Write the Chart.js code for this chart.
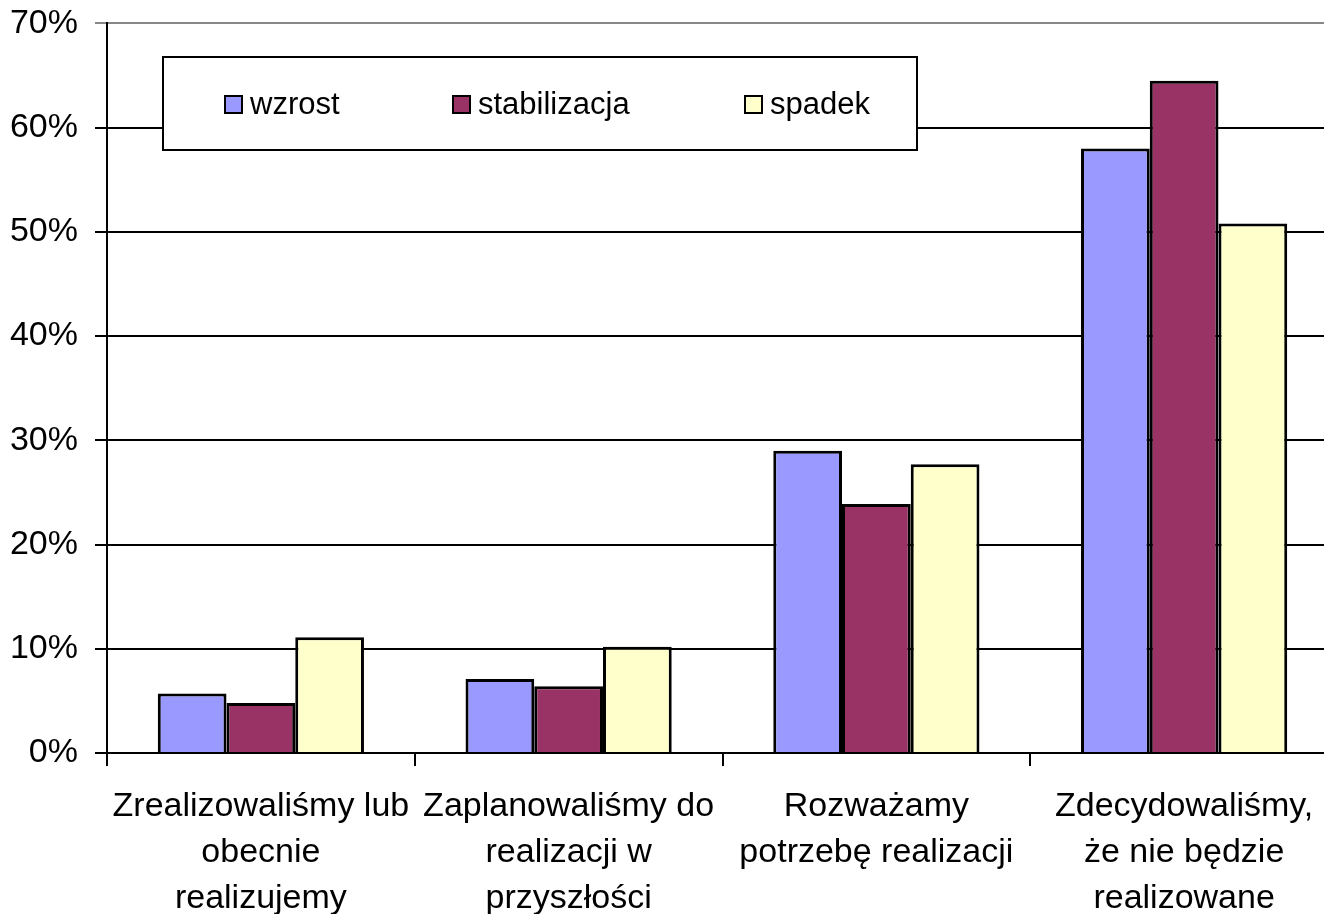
<!DOCTYPE html>
<html>
<head>
<meta charset="utf-8">
<script src="https://cdn.jsdelivr.net/npm/chart.js@4/dist/chart.umd.min.js"></script>
<style>
  html, body { margin: 0; padding: 0; background: #fff; overflow: hidden; }
  #wrap { position: absolute; left: 0; top: -14px; width: 1340px; height: 928px; }
</style>
</head>
<body>
<div id="wrap"><canvas id="c"></canvas></div>
<script>
const categories = [
  ["Zrealizowaliśmy lub", "obecnie", "realizujemy"],
  ["Zaplanowaliśmy do", "realizacji w", "przyszłości"],
  ["Rozważamy", "potrzebę realizacji"],
  ["Zdecydowaliśmy,", "że nie będzie", "realizowane"]
];
const seriesNames = ["wzrost", "stabilizacja", "spadek"];
const wzrost = [5.7, 7.1, 29.0, 58.0];
const stabilizacja = [4.8, 6.4, 23.9, 64.5];
const spadek = [11.1, 10.2, 27.7, 50.8];
const yTicks = [0, 10, 20, 30, 40, 50, 60, 70];
const colors = ["#9999FF", "#993366", "#FFFFCC"];

const FONT = '"Liberation Sans", Arial, sans-serif';
const OFF = 14;

const legendBox = {
  id: 'legendBox',
  afterDraw(chart) {
    const ctx = chart.ctx;
    ctx.save();
    ctx.fillStyle = '#fff';
    ctx.strokeStyle = '#000';
    ctx.lineWidth = 2;
    ctx.fillRect(163, 57 + OFF, 754, 93);
    ctx.strokeRect(163, 57 + OFF, 754, 93);
    const xs = [225, 453, 745];
    ctx.font = '31px ' + FONT;
    ctx.textBaseline = 'middle';
    ctx.textAlign = 'left';
    chart.data.datasets.forEach((ds, i) => {
      ctx.fillStyle = ds.backgroundColor;
      ctx.fillRect(xs[i], 96 + OFF, 17, 17);
      ctx.lineWidth = 2;
      ctx.strokeStyle = '#000';
      ctx.strokeRect(xs[i], 96 + OFF, 17, 17);
      ctx.fillStyle = '#000';
      ctx.fillText(ds.label, xs[i] + 25, 105 + OFF);
    });
    ctx.restore();
  }
};

new Chart(document.getElementById('c'), {
  type: 'bar',
  data: {
    labels: categories,
    datasets: [
      { label: seriesNames[0], data: wzrost, backgroundColor: colors[0] },
      { label: seriesNames[1], data: stabilizacja, backgroundColor: colors[1] },
      { label: seriesNames[2], data: spadek, backgroundColor: colors[2] }
    ]
  },
  options: {
    responsive: true,
    maintainAspectRatio: false,
    animation: false,
    layout: { padding: { top: 9, right: 2, left: 0, bottom: 0 } },
    datasets: {
      bar: {
        borderColor: '#000',
        borderWidth: 3,
        categoryPercentage: 0.67,
        barPercentage: 1.0
      }
    },
    plugins: {
      legend: { display: false },
      tooltip: { enabled: false }
    },
    scales: {
      x: {
        afterFit(scale) { scale.height = 161; },
        border: { display: true, color: '#000', width: 2 },
        grid: {
          drawOnChartArea: false,
          drawTicks: true,
          tickLength: 13,
          color: '#000',
          lineWidth: 2
        },
        ticks: {
          autoSkip: false,
          maxRotation: 0,
          minRotation: 0,
          padding: 18,
          color: '#000',
          font: { family: FONT, size: 34, lineHeight: 1.35 }
        }
      },
      y: {
        min: 0,
        max: 70,
        afterFit(scale) { scale.width = 107; },
        afterBuildTicks(scale) { scale.ticks = yTicks.map(v => ({ value: v })); },
        border: { display: true, color: '#000', width: 2 },
        grid: {
          drawTicks: true,
          tickLength: 12,
          color: (c) => (c.tick && c.tick.value === 70 ? '#888' : '#000'),
          lineWidth: 2
        },
        ticks: {
          padding: 17,
          color: '#000',
          font: { family: FONT, size: 34 },
          callback: (v) => v + '%'
        }
      }
    }
  },
  plugins: [legendBox]
});
</script>
</body>
</html>
